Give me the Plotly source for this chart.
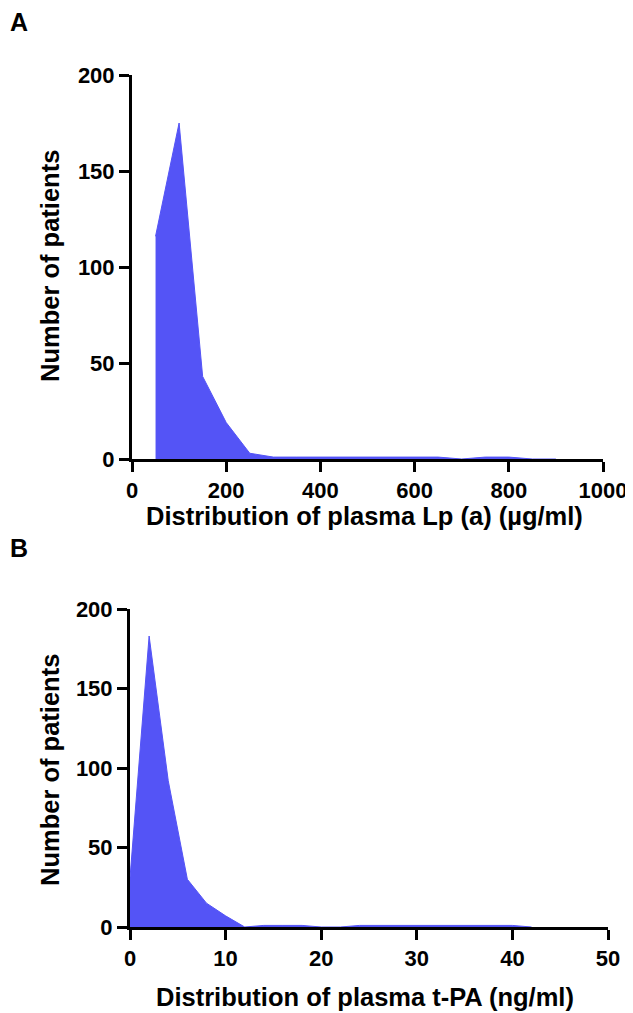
import plotly.graph_objects as go

# Panel A: plasma Lp(a) distribution
lpa_bins = [50, 100, 150, 200, 250, 300, 350, 400, 450, 500, 550, 600, 650, 700, 750, 800, 850, 900]
lpa_counts = [116, 175, 43, 19, 3, 1, 1, 1, 1, 1, 1, 1, 1, 0, 1, 1, 0, 0]

# Panel B: plasma t-PA distribution
tpa_bins = [0, 2, 4, 6, 8, 10, 12, 14, 16, 18, 20, 22, 24, 26, 28, 30, 32, 34, 36, 38, 40, 42]
tpa_counts = [31, 183, 92, 30, 15, 7, 0, 1, 1, 1, 0, 0, 1, 1, 1, 1, 1, 1, 1, 1, 1, 0]

y_ticks = [0, 50, 100, 150, 200]
xa_ticks = [0, 200, 400, 600, 800, 1000]
xb_ticks = [0, 10, 20, 30, 40, 50]

FILL = "rgb(84,84,246)"
FONT = "Liberation Sans"

# page body has an 8px default margin; figure is sized so it fills the window exactly
OFF = 8
W = 633.0 - OFF
H = 1013.0 - OFF


def px(x):
    return (x - OFF) / W


def py(y):
    return 1 - (y - OFF) / H


fig = go.Figure()
fig.add_trace(go.Scatter(x=lpa_bins, y=lpa_counts, mode="lines", fill="tozeroy",
                         line=dict(color=FILL, width=1), fillcolor=FILL,
                         xaxis="x", yaxis="y", showlegend=False, hoverinfo="skip"))
fig.add_trace(go.Scatter(x=tpa_bins, y=tpa_counts, mode="lines", fill="tozeroy",
                         line=dict(color=FILL, width=1), fillcolor=FILL,
                         xaxis="x2", yaxis="y2", showlegend=False, hoverinfo="skip"))

axis_common = dict(showline=True, linecolor="black", linewidth=3, ticks="outside",
                   tickwidth=3, ticklen=10, tickcolor="black", showgrid=False, zeroline=False,
                   automargin=False,
                   tickfont=dict(family=FONT, size=22, color="black", weight="bold"))
title_font = dict(family=FONT, size=25.5, color="black", weight="bold")
letter_font = dict(family=FONT, size=25, color="black", weight="bold")


def ann(text, x, y, font, angle=0, xanchor="center"):
    return dict(text=text, x=px(x), y=py(y), xref="paper", yref="paper", showarrow=False,
                xanchor=xanchor, yanchor="middle", textangle=angle, font=font)


fig.update_layout(
    template="none",
    width=int(W), height=int(H),
    margin=dict(l=0, r=0, t=0, b=0, pad=0),
    paper_bgcolor="white", plot_bgcolor="white",
    xaxis=dict(domain=[px(132), px(603)], range=[0, 1000], tickvals=xa_ticks, anchor="y",
               **axis_common),
    yaxis=dict(domain=[py(459), py(75)], range=[0, 200], tickvals=y_ticks, anchor="x",
               **axis_common),
    xaxis2=dict(domain=[px(130), px(608)], range=[0, 50], tickvals=xb_ticks, anchor="y2",
                **axis_common),
    yaxis2=dict(domain=[py(927), py(609)], range=[0, 200], tickvals=y_ticks, anchor="x2",
                **axis_common),
    annotations=[
        ann("A", 8, 22, letter_font, xanchor="left"),
        ann("B", 8, 548, letter_font, xanchor="left"),
        ann("Distribution of plasma Lp (a) (µg/ml)", 364, 516, title_font),
        ann("Distribution of plasma t-PA (ng/ml)", 365, 997, title_font),
        ann("Number of patients", 50, 266, title_font, -90),
        ann("Number of patients", 50, 770, title_font, -90),
    ],
)

fig.write_html("out.html")
